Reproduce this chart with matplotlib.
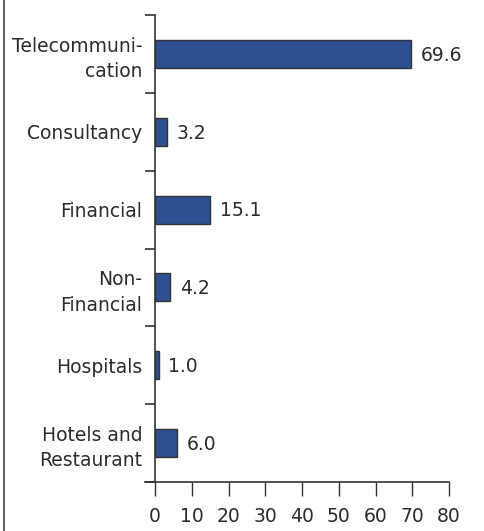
import matplotlib
matplotlib.use("Agg")
import matplotlib.pyplot as plt
from matplotlib.lines import Line2D
import numpy as np

categories = ["Telecommuni-\ncation", "Consultancy", "Financial",
              "Non-\nFinancial", "Hospitals", "Hotels and\nRestaurant"]
values = [69.6, 3.2, 15.1, 4.2, 1.0, 6.0]
value_labels = ["69.6", "3.2", "15.1", "4.2", "1.0", "6.0"]
x_ticks = [0, 10, 20, 30, 40, 50, 60, 70, 80]

W, H = 484, 531
fig = plt.figure(figsize=(W / 100, H / 100), dpi=100)
ax = fig.add_axes([155 / W, 1 - 482 / H, (449 - 155) / W, (482 - 15) / H])

text_color = "#2b2b2b"
bar_color = "#2E4F91"
fs = 13.5

n = len(categories)
y = np.arange(n)
ax.barh(y, values, height=0.36, color=bar_color, edgecolor="#333333", linewidth=1.0)
for yi, v, lab in zip(y, values, value_labels):
    ax.annotate(lab, (v, yi), xytext=(7, -1), textcoords="offset points",
                ha="left", va="center", fontsize=fs, color=text_color)

ax.set_ylim(n - 0.5, -0.5)
ax.set_xlim(0, 80)

ax.set_yticks(y)
ax.set_yticklabels(categories, fontsize=fs, color=text_color, linespacing=1.42)
for lbl in ax.get_yticklabels():
    lbl.set_multialignment("right")
ax.tick_params(axis="y", which="major", length=0, pad=9)
ax.set_yticks(np.arange(n + 1) - 0.5, minor=True)
ax.tick_params(axis="y", which="minor", length=7, width=1.2, color="#333333", direction="out")

ax.set_xticks(x_ticks)
ax.set_xticklabels([str(t) for t in x_ticks], fontsize=fs, color=text_color)
ax.tick_params(axis="x", length=10, width=1.0, color="#333333", direction="out", pad=8)

for s in ["top", "right"]:
    ax.spines[s].set_visible(False)
for s in ["left", "bottom"]:
    ax.spines[s].set_color("#333333")
    ax.spines[s].set_linewidth(1.2)

# bottom axis line extends a little to the left of the origin
fig.add_artist(Line2D([145 / W, 155 / W], [1 - 482 / H, 1 - 482 / H],
                      color="#333333", linewidth=1.2))
# thin frame line on the left edge
fig.add_artist(Line2D([4 / W, 4 / W], [0, 1], color="#444444", linewidth=1.2))

fig.savefig("out.png", dpi=100)
